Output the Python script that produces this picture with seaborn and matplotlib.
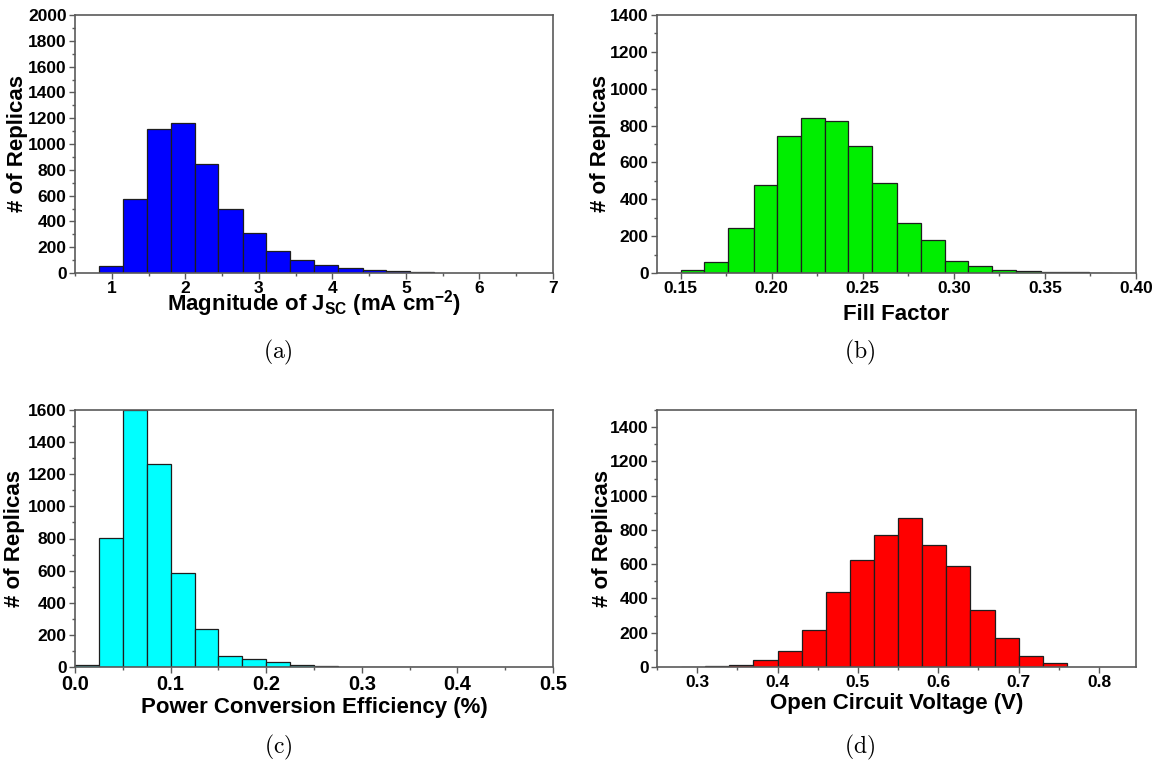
import numpy as np
import pandas as pd
import matplotlib
matplotlib.use("Agg")
import matplotlib.pyplot as plt
from matplotlib.ticker import MultipleLocator, FormatStrFormatter
import seaborn as sns

# ---- histogram data: bin edges and replica counts ----
jsc_edges = [0.83, 1.155, 1.48, 1.80, 2.13, 2.45, 2.78, 3.10, 3.43, 3.75,
             4.08, 4.41, 4.73, 5.05, 5.38]
jsc_counts = [54, 574, 1120, 1162, 846, 494, 310, 173, 103, 62, 39, 21, 13, 6]

ff_edges = [0.150, 0.163, 0.176, 0.190, 0.203, 0.216, 0.229, 0.242, 0.255,
            0.269, 0.282, 0.295, 0.308, 0.321, 0.334, 0.348, 0.361, 0.374,
            0.387]
ff_counts = [14, 62, 243, 475, 741, 842, 824, 690, 491, 274, 181, 63, 40,
             14, 12, 4, 5, 2]

pce_edges = [0.0, 0.025, 0.05, 0.075, 0.1, 0.125, 0.15, 0.175, 0.2, 0.225,
             0.25, 0.275, 0.3, 0.325, 0.35, 0.375, 0.4]
pce_counts = [12, 802, 1600, 1262, 584, 238, 70, 50, 31, 10, 5, 2, 0, 0, 0, 3]

voc_edges = [0.28, 0.31, 0.34, 0.37, 0.40, 0.43, 0.46, 0.49, 0.52, 0.55,
             0.58, 0.61, 0.64, 0.67, 0.70, 0.73, 0.76]
voc_counts = [2, 6, 14, 39, 93, 218, 440, 625, 772, 872, 714, 590, 335, 167,
              66, 23]

captions = ["(a)", "(b)", "(c)", "(d)"]
xlabels = [r"Magnitude of J$_{\mathrm{SC}}$ (mA cm$^{\mathrm{-2}}$)",
           "Fill Factor",
           "Power Conversion Efficiency (%)",
           "Open Circuit Voltage (V)"]
ylabel = "# of Replicas"

# ---- style ----
sns.set_theme(style="ticks")
plt.rcParams["font.family"] = ["Liberation Sans", "DejaVu Sans"]
plt.rcParams["font.weight"] = "bold"
plt.rcParams["mathtext.fontset"] = "custom"
plt.rcParams["mathtext.rm"] = "Liberation Sans:bold"
plt.rcParams["mathtext.bf"] = "Liberation Sans:bold"
plt.rcParams["mathtext.sf"] = "Liberation Sans:bold"
plt.rcParams["mathtext.it"] = "Liberation Sans:bold:italic"

W, H = 1161, 764
fig = plt.figure(figsize=(W / 100, H / 100), dpi=100)

SPINE = "#5a5a5a"
EDGE = "#1e1e1e"


def px_rect(left, top, right, bottom):
    return [left / W, 1 - bottom / H, (right - left) / W, (bottom - top) / H]


panels = [
    dict(edges=jsc_edges, counts=jsc_counts, color="#0000ff",
         rect=px_rect(75, 15, 553, 273), xlim=(0.5, 7.0), ylim=(0, 2000),
         xmaj=1, xmin=0.5, xfmt="%d", xtick_size=12.5,
         xlab_y=-0.058, ylab_x=-0.098),
    dict(edges=ff_edges, counts=ff_counts, color="#00ee00",
         rect=px_rect(657, 15, 1136, 273), xlim=(0.137, 0.40), ylim=(0, 1400),
         xmaj=0.05, xmin=0.025, xfmt="%.2f", xtick_size=12.5,
         xlab_y=-0.122, ylab_x=-0.095),
    dict(edges=pce_edges, counts=pce_counts, color="#00ffff",
         rect=px_rect(75, 410, 553, 667), xlim=(0.0, 0.5), ylim=(0, 1600),
         xmaj=0.1, xmin=0.05, xfmt="%.1f", xtick_size=14.5,
         xlab_y=-0.115, ylab_x=-0.105),
    dict(edges=voc_edges, counts=voc_counts, color="#ff0000",
         rect=px_rect(657, 410, 1136, 667), xlim=(0.25, 0.846), ylim=(0, 1500),
         xmaj=0.1, xmin=0.05, xfmt="%.1f", xtick_size=12.5,
         xlab_y=-0.100, ylab_x=-0.092),
]

caption_pos = [(278, 352), (860, 352), (278, 747), (860, 747)]

for p, xlabel, cap, (cx, cy) in zip(panels, xlabels, captions, caption_pos):
    ax = fig.add_axes(p["rect"])
    edges = list(p["edges"])
    centers = [(lo + hi) / 2 for lo, hi in zip(edges[:-1], edges[1:])]
    df = pd.DataFrame({"value": centers, "count": p["counts"]})
    sns.histplot(data=df, x="value", weights="count", bins=edges, ax=ax,
                 color=p["color"], edgecolor=EDGE, linewidth=0.9, alpha=1.0)

    ax.set_xlim(*p["xlim"])
    ax.set_ylim(*p["ylim"])
    ax.xaxis.set_major_locator(MultipleLocator(p["xmaj"]))
    ax.xaxis.set_minor_locator(MultipleLocator(p["xmin"]))
    ax.xaxis.set_major_formatter(FormatStrFormatter(p["xfmt"]))
    ax.yaxis.set_major_locator(MultipleLocator(200))
    ax.yaxis.set_minor_locator(MultipleLocator(100))

    for side in ["top", "right", "bottom", "left"]:
        ax.spines[side].set_visible(True)
        ax.spines[side].set_color(SPINE)
        ax.spines[side].set_linewidth(1.2)

    ax.tick_params(which="both", direction="out", top=False, right=False,
                   color=SPINE, width=1.0, labelcolor="black", pad=2)
    ax.tick_params(which="major", length=4)
    ax.tick_params(which="minor", length=2.5)
    ax.tick_params(axis="x", which="major", labelsize=p["xtick_size"])
    ax.tick_params(axis="y", which="major", labelsize=12.5)

    ax.set_xlabel(xlabel, fontsize=16, fontweight="bold", color="black")
    ax.set_ylabel(ylabel, fontsize=16, fontweight="bold", color="black")
    ax.xaxis.set_label_coords(0.5, p["xlab_y"])
    ax.yaxis.set_label_coords(p["ylab_x"], 0.5)

    fig.text(cx / W, 1 - cy / H, r"$\mathrm{" + cap + "}$",
             math_fontfamily="cm", fontsize=17, ha="center", va="center",
             color="black")

fig.savefig("out.png", dpi=100)
